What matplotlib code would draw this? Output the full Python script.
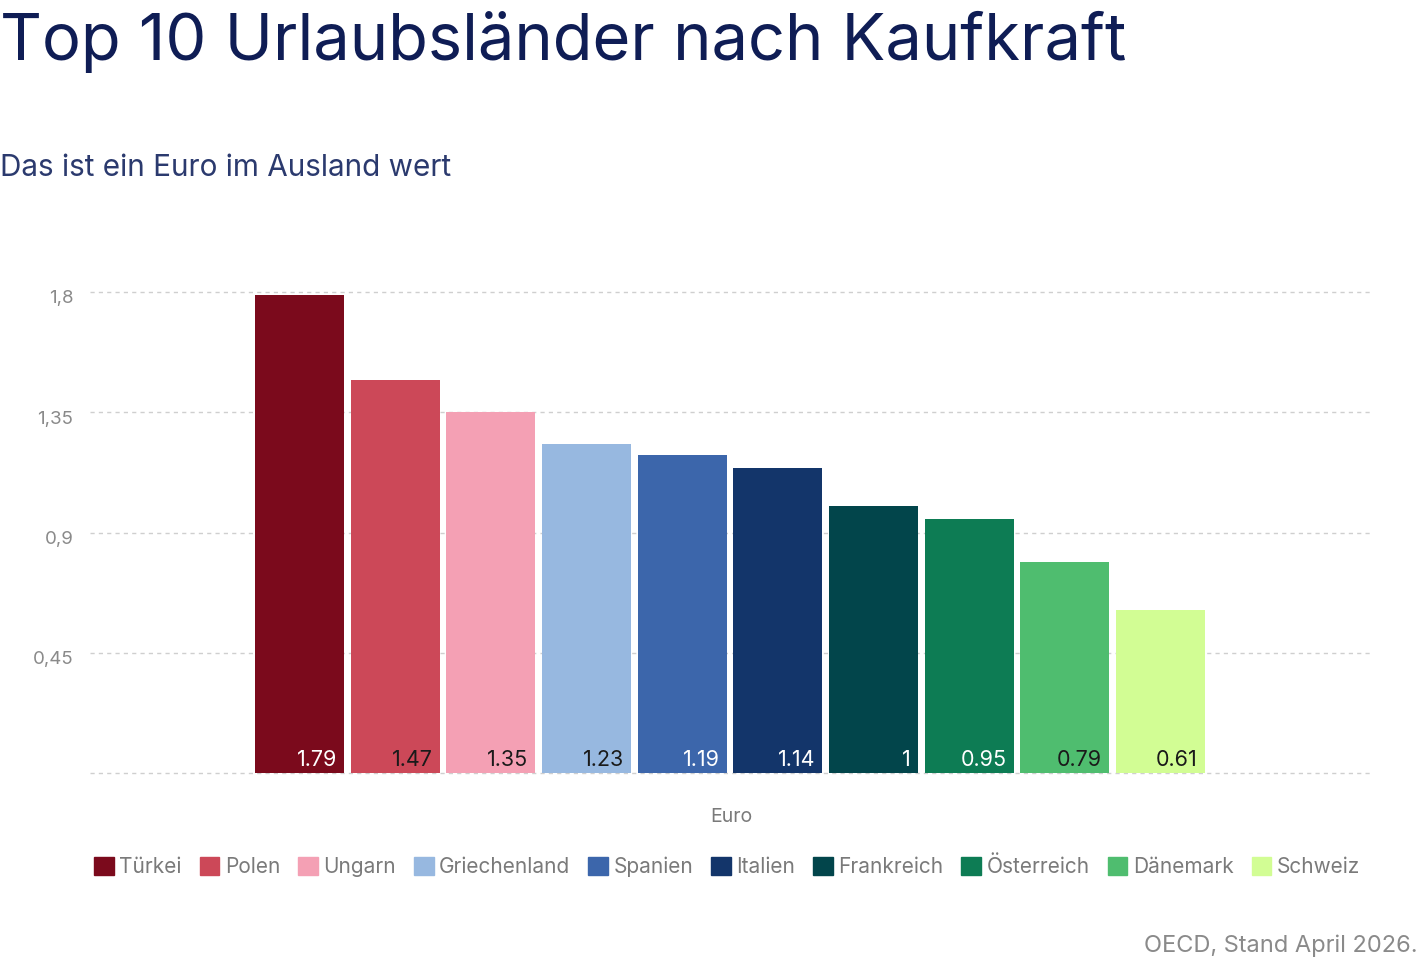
import matplotlib
matplotlib.use("Agg")
import matplotlib.pyplot as plt
from matplotlib.patches import Patch
from matplotlib.transforms import ScaledTranslation

plt.rcParams['font.family'] = ['Inter', 'DejaVu Sans']

countries = ["Türkei", "Polen", "Ungarn", "Griechenland", "Spanien",
             "Italien", "Frankreich", "Österreich", "Dänemark", "Schweiz"]
values = [1.79, 1.47, 1.35, 1.23, 1.19, 1.14, 1.0, 0.95, 0.79, 0.61]
value_labels = ["1.79", "1.47", "1.35", "1.23", "1.19", "1.14", "1", "0.95", "0.79", "0.61"]
colors = ["#7b0a1c", "#cc4858", "#f4a0b4", "#97b8e0", "#3c66ab",
          "#13356a", "#02454b", "#0d7c54", "#4fbd6f", "#d2fd94"]
label_colors = ["white", "#1a1a1a", "#1a1a1a", "#1a1a1a", "white",
                "white", "white", "white", "#1a1a1a", "#1a1a1a"]
yticks = [0, 0.45, 0.9, 1.35, 1.8]
ytick_labels = ["", "0,45", "0,9", "1,35", "1,8"]
category = "Euro"

W, H = 1420, 964
fig = plt.figure(figsize=(W / 100, H / 100), dpi=100)
ax = fig.add_axes([90 / W, 1 - 773 / H, 1280 / W, 481 / H])

x = list(range(len(values)))
ax.bar(x, values, width=0.93, color=colors, zorder=3)
for xi, v, lab, lc in zip(x, values, value_labels, label_colors):
    ax.text(xi + 0.39, 0.012, lab, ha="right", va="bottom", fontsize=15.5,
            color=lc, zorder=4)

ax.set_xlim(-2.19, 11.19)
ax.set_ylim(0, 1.8)
ax.set_yticks(yticks)
ax.set_yticklabels(ytick_labels)
ax.set_xticks([])
ax.tick_params(axis="y", length=0, pad=12, labelsize=13.5, labelcolor="#8a8a8a")
offset = ScaledTranslation(0, -0.05, fig.dpi_scale_trans)
for t in ax.get_yticklabels():
    t.set_transform(t.get_transform() + offset)
for s in ax.spines.values():
    s.set_visible(False)
for t in yticks:
    ax.axhline(t, color="#cfcfcf", linestyle=(0, (3, 3)), linewidth=1, zorder=1,
               clip_on=False)

fig.text(731 / W, 1 - 817 / H, category, ha="center", va="center",
         fontsize=14, color="#7a7a7a")

fig.text(0, 1 - 42 / H, "Top 10 Urlaubsländer nach Kaufkraft", ha="left", va="center",
         fontsize=46.8, color="#0f1d55")
fig.text(0, 1 - 168 / H, "Das ist ein Euro im Ausland wert", ha="left", va="center",
         fontsize=21.4, color="#2b3a6e")

handles = [Patch(facecolor=c, edgecolor=c) for c in colors]
leg = fig.legend(handles, countries, loc="center", bbox_to_anchor=(727 / W, 1 - 867 / H),
                 ncol=10, frameon=False, handlelength=0.95,
                 handleheight=0.95, handletextpad=0.25, columnspacing=0.87,
                 prop={"size": 15})
for t in leg.get_texts():
    t.set_color("#7a7a7a")

fig.text(1418 / W, 1 - 946 / H, "OECD, Stand April 2026.", ha="right", va="center",
         fontsize=17, color="#8a8a8a")

fig.savefig("out.png", dpi=100)
